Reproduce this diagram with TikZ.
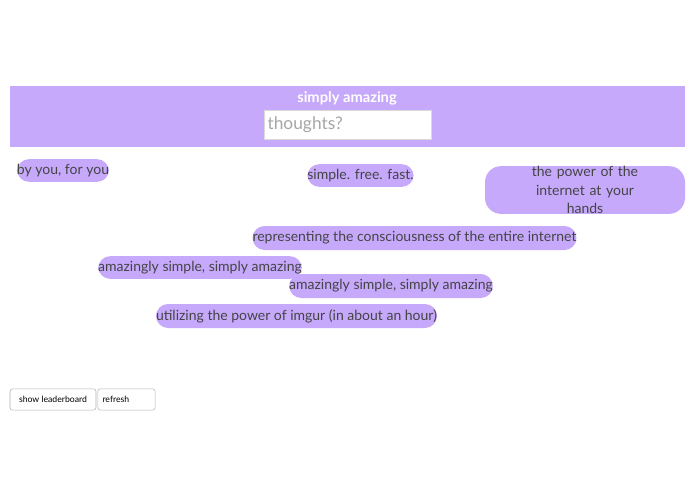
\documentclass[tikz,border=0pt]{standalone}
\usepackage{fontspec}
\setmainfont{Lato}
\definecolor{lav}{HTML}{C7A9FC}
\definecolor{txt}{HTML}{444444}
\begin{document}
\begin{tikzpicture}[x=0.75pt,y=-0.75pt,
  pill/.style={fill=lav,rounded corners=9pt,text=txt,font=\fontsize{10.5}{14}\selectfont,inner sep=0pt,align=center},
  btn/.style={draw=black!30,rounded corners=2pt,fill=white,font=\fontsize{6.5}{8}\selectfont,inner sep=0pt}]
\useasboundingbox (0,0) rectangle (695,494);
\fill[lav] (10,86) rectangle (685,147);
\node[text=white,font=\bfseries\fontsize{11}{13}\selectfont] (title) at (347,98) {simply amazing};
\node[draw=black!15,fill=white,minimum width=125pt,minimum height=22pt,inner sep=2pt,anchor=north west,text=black!35,font=\fontsize{13}{15}\selectfont,text width=120pt,align=left] (inp) at (264,110) {thoughts?};
\node[pill,minimum width=66pt,minimum height=17pt] (p1) at (63,170.5) {by you, for you};
\node[pill,minimum width=74pt,minimum height=17pt] (p2) at (360.5,175.5) {simple. free. fast.};
\node[pill,minimum width=150pt,minimum height=33pt,rounded corners=12pt,text width=145pt] (p3) at (585,190) {the power of the internet at your\\hands};
\node[pill,minimum width=229pt,minimum height=18pt] (p4) at (414.5,238) {representing the consciousness of the entire internet};
\node[pill,minimum width=150pt,minimum height=17pt] (p5) at (200,267.5) {amazingly simple, simply amazing};
\node[pill,minimum width=150pt,minimum height=18pt] (p6) at (391,286) {amazingly simple, simply amazing};
\node[pill,minimum width=200pt,minimum height=18pt] (p7) at (296.5,316) {utilizing the power of imgur (in about an hour)};
\node[btn,minimum width=64.5pt,minimum height=16pt] (b1) at (53,399.5) {show leaderboard};
\node[btn,minimum width=43pt,minimum height=16pt,text width=36pt,align=left] (b2) at (126.5,399.5) {refresh};
\end{tikzpicture}
\end{document}
